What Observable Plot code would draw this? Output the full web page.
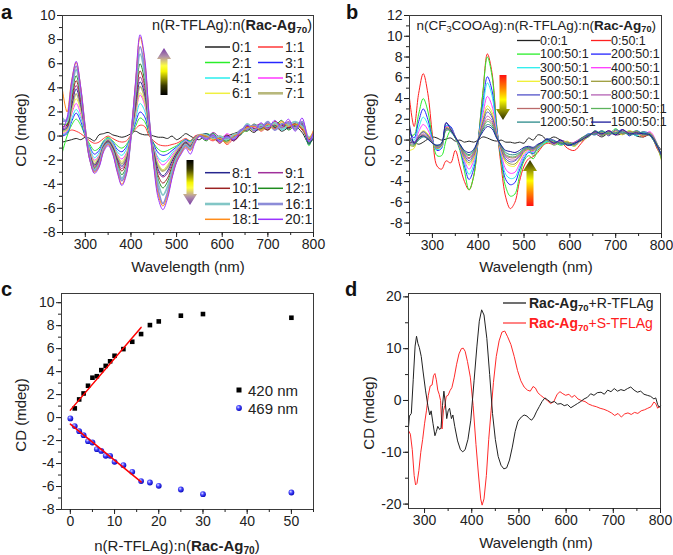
<!DOCTYPE html>
<html><head><meta charset="utf-8">
<script src="https://cdn.jsdelivr.net/npm/d3@7"></script>
<script src="https://cdn.jsdelivr.net/npm/@observablehq/plot@0.6"></script>
<style>
html,body{margin:0;padding:0;background:#fff;}
#fig{position:relative;width:673px;height:555px;overflow:hidden;font-family:"Liberation Sans",Arial,sans-serif;}
</style></head><body><div id="fig"></div>
<script>
// ---------------- DATA ----------------
// Panels a & b: wavelength grid (nm)
const wlAB = [250,260,270,280,290,300,310,320,330,340,350,360,370,380,390,400,410,420,430,440,450,460,470,480,490,500,510,520,530,540,550,565,580,595,610,625,640,655,670,685,700,715,730,745,760,775,790,800];

// Panel a: n(R-TFLAg):n(Rac-Ag70)
const aLabels = ["0:1","1:1","2:1","3:1","4:1","5:1","6:1","7:1","8:1","9:1","10:1","12:1","14:1","16:1","18:1","20:1"];
const a_0_1  = [-0.5,-0.4,-0.3,-0.2,-0.3,-0.1,-0.2,-0.4,0.1,0.2,0.3,0.1,0.0,-0.1,0.0,0.2,0.4,0.2,0.1,0.1,0.0,-0.1,-0.1,-0.2,0.0,-0.3,-0.1,0.2,0.0,-0.2,-0.3, 0.1,-0.2,-0.3,0.0,0.2,0.4,0.6,0.3,0.8,0.5,0.9,0.4,0.7,0.8,0.3,-0.6,-0.2];
const a_1_1  = [0.0,0.3,0.5,0.4,0.2,-0.1,-0.4,-0.6,-0.5,-0.2,0.0,-0.2,-0.4,-0.5,-0.4,0.1,0.6,0.9,0.8,0.0,-0.4,-0.7,-0.8,-0.8,-0.7,-0.6,-0.4,-0.2,-0.4,0.0,0.1, -0.1,-0.4,0.0,-0.7,-0.2,0.3,0.7,0.9,0.4,0.8,0.7,0.6,0.9,1.0,0.5,-0.3,0.0];
const a_2_1  = [-1.3,0.0,0.9,1.4,0.9,0.0,-0.7,-1.2,-1.0,-0.4,-0.1,-0.4,-0.8,-1.0,-0.7,0.0,0.8,1.5,1.2,0.2,-0.6,-1.1,-1.3,-1.2,-1.0,-0.8,-0.5,-0.3,-0.4,-0.1,0.0, 0.2,0.0,-0.4,-0.1,0.0,0.1,0.6,0.5,1.0,0.6,0.9,0.8,1.1,0.5,0.9,-0.8,0.3];
const a_3_1  = [0.0,0.2,1.2,1.9,1.2,0.0,-0.9,-1.5,-1.2,-0.5,-0.2,-0.5,-1.1,-1.3,-0.9,0.0,1.1,2.0,1.6,0.3,-0.7,-1.4,-1.6,-1.5,-1.2,-0.9,-0.6,-0.3,-0.5,-0.1,0.1, -0.2,-0.1,-0.1,0.0,-0.4,0.3,0.9,0.6,0.7,0.9,0.6,1.0,0.7,0.8,1.1,-0.4,0.1];
const a_4_1  = [0.1,0.3,1.4,2.2,1.5,0.1,-1.0,-1.8,-1.4,-0.6,-0.2,-0.6,-1.3,-1.6,-1.1,0.0,1.4,2.7,2.1,0.4,-0.9,-1.8,-2.1,-1.9,-1.4,-1.0,-0.6,-0.4,-0.5,-0.2,0.0, 0.0,0.2,-0.3,-0.3,0.0,0.4,0.5,0.8,0.8,0.7,1.1,0.5,0.8,1.0,0.6,-0.6,0.2];
const a_5_1  = [0.2,0.4,1.8,2.7,1.8,0.2,-1.2,-2.0,-1.6,-0.7,-0.3,-0.7,-1.5,-1.9,-1.4,0.0,1.8,3.4,2.6,0.5,-1.0,-2.0,-2.4,-2.1,-1.6,-1.1,-0.7,-0.4,-0.6,-0.2,0.1, -0.3,0.1,-0.5,0.2,-0.1,0.2,0.8,0.7,0.6,1.0,0.5,0.9,0.9,0.6,1.0,-0.3,0.0];
const a_6_1  = [0.3,0.5,2.0,3.1,2.1,0.2,-1.3,-2.1,-1.7,-0.7,-0.3,-0.8,-1.6,-2.1,-1.5,0.0,1.9,3.6,2.8,0.5,-1.1,-2.3,-2.8,-2.4,-1.8,-1.2,-0.8,-0.5,-0.7,-0.2,0.0, 0.1,-0.3,0.0,-0.2,-0.2,0.5,0.7,0.4,0.9,0.6,0.8,1.1,0.6,0.9,0.7,-0.5,0.3];
const a_7_1  = [0.4,0.6,2.3,3.5,2.4,0.3,-1.4,-2.3,-1.8,-0.8,-0.3,-0.8,-1.7,-2.3,-1.7,0.0,2.2,4.1,3.2,0.6,-1.2,-2.5,-2.9,-2.6,-1.9,-1.3,-0.8,-0.5,-0.7,-0.2,0.1, -0.1,0.0,-0.2,-0.5,0.1,0.3,0.6,0.9,0.5,0.8,1.0,0.7,1.0,0.7,1.2,-0.2,0.2];
const a_8_1  = [0.5,0.7,2.5,3.9,2.6,0.3,-1.5,-2.4,-1.9,-0.8,-0.4,-0.9,-1.9,-2.5,-1.9,0.0,2.4,4.5,3.5,0.7,-1.3,-2.8,-3.3,-2.9,-2.1,-1.4,-0.9,-0.5,-0.8,-0.3,0.0, 0.2,-0.2,-0.4,0.0,-0.3,0.1,0.9,0.5,0.6,1.1,0.7,1.0,0.6,1.1,0.9,-0.7,0.1];
const a_9_1  = [0.6,0.8,2.8,4.2,2.8,0.3,-1.6,-2.5,-2.0,-0.9,-0.4,-1.0,-2.0,-2.7,-2.0,0.0,2.6,4.9,3.8,0.8,-1.4,-3.0,-3.4,-3.1,-2.3,-1.5,-0.9,-0.6,-0.8,-0.3,0.1, -0.2,0.3,-0.1,-0.2,0.0,0.4,0.5,0.8,1.0,0.7,0.9,0.6,1.2,0.8,1.0,-0.4,0.4];
const a_10_1 = [0.8,0.9,3.0,4.6,3.0,0.4,-1.7,-2.6,-2.1,-0.9,-0.5,-1.0,-2.1,-2.9,-2.2,0.0,2.9,5.4,4.2,0.9,-1.5,-3.3,-3.9,-3.5,-2.5,-1.6,-1.0,-0.6,-0.9,-0.3,0.0, 0.0,-0.1,-0.6,0.1,-0.4,0.2,0.8,0.6,0.8,0.5,1.2,0.9,0.7,1.0,0.6,-0.3,0.0];
const a_12_1 = [1.0,1.0,3.4,5.0,3.3,0.4,-1.8,-2.7,-2.2,-1.0,-0.5,-1.1,-2.3,-3.2,-2.5,0.0,3.2,6.0,4.6,1.0,-1.7,-3.6,-4.3,-3.8,-2.7,-1.7,-1.1,-0.7,-0.9,-0.3,0.0, -0.4,0.2,-0.3,-0.4,-0.1,0.5,0.4,1.0,0.6,0.9,0.8,1.3,0.5,0.9,1.1,-0.6,0.3];
const a_14_1 = [1.5,1.2,3.8,5.5,3.6,0.5,-1.8,-2.8,-2.3,-1.0,-0.6,-1.2,-2.5,-3.5,-2.7,0.0,3.6,6.8,5.2,1.1,-1.9,-4.0,-4.9,-4.2,-2.9,-1.8,-1.2,-0.7,-1.0,-0.4,0.1, 0.1,-0.2,0.0,-0.3,0.1,0.3,1.0,0.5,0.9,0.8,1.1,0.6,0.9,1.2,0.8,-0.1,0.2];
const a_16_1 = [1.2,1.4,4.2,5.8,3.8,0.5,-1.9,-2.9,-2.4,-1.1,-0.6,-1.3,-2.7,-3.7,-2.9,0.0,3.9,7.4,5.7,1.3,-2.1,-4.5,-5.6,-4.7,-3.2,-2.0,-1.3,-0.8,-1.1,-0.4,0.0, -0.2,0.0,-0.4,-0.1,-0.2,0.5,0.6,0.9,0.7,1.2,0.5,1.0,1.1,0.6,1.2,-0.4,0.1];
const a_18_1 = [3.8,2.0,4.6,6.1,4.0,0.6,-2.0,-3.0,-2.5,-1.2,-0.7,-1.4,-2.9,-4.0,-3.1,0.0,4.4,8.2,6.3,1.4,-2.3,-4.9,-5.8,-5.0,-3.4,-2.1,-1.4,-0.9,-1.2,-0.5,0.1, 0.0,-0.3,-0.2,-0.6,0.0,0.2,0.7,0.8,0.5,1.0,0.6,1.2,0.8,1.0,0.7,-0.2,0.5];
const a_20_1 = [0.5,1.5,4.5,6.2,4.0,0.5,-2.0,-3.1,-2.6,-1.3,-0.8,-1.5,-3.0,-4.1,-3.2,0.0,4.5,8.4,6.5,1.5,-2.5,-5.2,-6.1,-5.2,-3.5,-2.2,-1.5,-1.0,-1.5,-0.6,0.0, -0.3,0.1,-0.5,0.0,-0.3,0.4,0.9,0.4,1.1,0.6,1.3,0.7,1.4,0.4,1.5,-0.5,0.3];

// Panel b: n(CF3COOAg):n(R-TFLAg):n(Rac-Ag70)
const bLabels = ["0:0:1","0:50:1","100:50:1","200:50:1","300:50:1","400:50:1","500:50:1","600:50:1","700:50:1","800:50:1","900:50:1","1000:50:1","1200:50:1","1500:50:1"];
const b_0_0    = [-0.3,-0.2,-0.4,-0.2,0.1,0.3,0.2,0.0,0.1,0.2,-0.1,0.0,-0.2,-0.1,-0.2,0.0,0.3,0.2,0.0,-0.1,0.0,-0.2,-0.2,-0.3,-0.2,-0.3,0.2,0.0,0.5,0.4,0.0, 0.3,0.0,-0.2,-0.3,0.1,0.4,0.6,0.3,0.7,0.5,0.6,0.8,0.4,0.3,0.5,-0.4,-1.0];
const b_0_50   = [4.0,1.3,4.5,6.4,4.5,0.5,-2.5,-2.8,-2.0,-2.2,-1.0,-2.5,-4.0,-4.8,-3.5,0.0,4.5,8.3,6.5,1.5,-2.5,-5.5,-6.6,-6.0,-4.0,-2.5,-1.8,-1.6,-1.2,-0.6,-0.3, -0.4,-0.2,-0.8,-1.0,-0.3,0.4,0.8,0.5,0.9,0.6,1.0,0.5,0.8,0.3,0.7,-0.8,-1.5];
const b_100_50 = [0.5,0.5,2.5,4.0,2.8,0.2,-1.5,-1.5,0.0,0.9,0.2,-1.0,-3.0,-4.8,-3.5,0.0,4.5,8.0,6.2,1.5,-2.0,-4.5,-5.4,-5.2,-3.5,-2.0,-1.5,-1.8,-1.0,-0.5,-0.2, -0.2,-0.5,-0.3,-0.6,0.1,0.5,0.6,0.9,0.6,1.1,0.6,0.9,0.5,0.8,0.4,-0.5,-1.8];
const b_200_50 = [0.8,0.2,1.8,3.0,2.0,0.1,-1.0,-0.8,1.4,1.3,0.3,-0.8,-2.5,-3.8,-2.8,0.0,3.5,6.1,4.8,1.2,-1.6,-3.8,-4.3,-4.1,-2.9,-1.8,-1.2,-1.3,-0.8,-0.4,-0.1, -0.3,-0.1,-0.5,-0.4,0.2,0.3,0.9,0.5,0.8,0.7,1.0,0.4,0.9,0.6,0.5,-0.4,-1.6];
const b_300_50 = [0.2,0.0,1.2,2.2,1.5,0.0,-0.9,-0.7,1.4,1.2,0.3,-0.7,-2.2,-3.3,-2.4,0.0,3.0,5.5,4.3,1.0,-1.4,-3.3,-3.7,-3.6,-2.6,-1.6,-1.1,-1.2,-0.7,-0.4,-0.1, -0.1,-0.4,-0.2,-0.5,0.0,0.6,0.5,0.8,0.5,0.9,0.7,0.8,0.4,0.7,0.6,-0.6,-1.4];
const b_400_50 = [0.0,-0.3,0.8,1.5,1.0,-0.1,-0.8,-0.6,1.3,1.1,0.3,-0.7,-2.0,-2.8,-2.0,0.0,2.4,4.2,3.3,0.8,-1.2,-2.8,-3.2,-3.1,-2.3,-1.4,-1.0,-1.1,-0.7,-0.3,0.0, -0.4,0.0,-0.4,-0.2,0.1,0.4,0.7,0.4,0.9,0.5,0.8,0.6,0.7,0.5,0.8,-0.3,-1.7];
const b_500_50 = [-1.0,-0.8,0.4,0.9,0.6,-0.2,-0.8,-0.6,1.2,1.1,0.3,-0.6,-1.8,-2.4,-1.8,0.0,2.0,3.3,2.7,0.6,-1.0,-2.2,-2.5,-2.5,-1.9,-1.2,-0.9,-1.0,-0.6,-0.3,0.0, -0.2,-0.3,-0.1,-0.6,0.2,0.5,0.6,0.7,0.6,0.8,0.5,0.9,0.6,0.4,0.7,-0.5,-2.0];
const b_600_50 = [-0.5,-0.6,0.3,0.8,0.5,-0.2,-0.8,-0.5,1.1,1.0,0.2,-0.6,-1.7,-2.2,-1.6,0.0,1.8,3.0,2.4,0.5,-0.9,-2.0,-2.3,-2.3,-1.8,-1.1,-0.9,-1.0,-0.6,-0.3,0.0, -0.3,-0.2,-0.5,-0.3,-0.1,0.3,0.8,0.5,0.7,0.6,0.9,0.5,0.8,0.6,0.4,-0.7,-1.8];
const b_700_50 = [0.3,-0.2,0.4,0.8,0.4,-0.2,-0.7,-0.5,1.6,1.2,0.3,-0.5,-1.5,-2.0,-1.4,0.0,1.6,2.7,2.2,0.5,-0.8,-1.8,-2.1,-2.0,-1.6,-1.0,-0.8,-0.9,-0.5,-0.2,0.1, 0.0,-0.4,-0.3,-0.4,0.1,0.6,0.5,0.9,0.4,1.0,0.6,0.7,0.5,0.8,0.6,-0.4,-1.5];
const b_800_50 = [-0.3,-0.4,0.2,0.6,0.3,-0.3,-0.7,-0.4,1.0,1.0,0.2,-0.5,-1.4,-1.8,-1.3,0.0,1.4,2.3,1.9,0.4,-0.7,-1.6,-1.9,-1.9,-1.5,-1.0,-0.8,-0.9,-0.5,-0.2,0.1, -0.3,-0.1,-0.4,-0.2,0.2,0.4,0.7,0.6,0.8,0.5,0.9,0.7,0.6,0.5,0.7,-0.6,-1.6];
const b_900_50 = [0.2,-0.3,0.2,0.5,0.2,-0.3,-0.6,-0.4,1.2,0.9,0.3,-0.5,-1.3,-1.7,-1.2,0.0,1.2,2.0,1.7,0.4,-0.6,-1.5,-1.7,-1.7,-1.4,-0.9,-0.7,-0.8,-0.5,-0.2,0.0, -0.2,-0.3,-0.2,-0.5,0.0,0.5,0.6,0.7,0.5,0.9,0.6,0.8,0.7,0.4,0.5,-0.5,-1.4];
const b_1000_50 = [-0.4,-0.5,0.1,0.4,0.2,-0.3,-0.6,-0.4,0.9,0.9,0.2,-0.5,-1.2,-1.5,-1.1,0.0,1.1,1.8,1.5,0.3,-0.6,-1.4,-1.6,-1.6,-1.3,-0.9,-0.8,-1.5,-0.6,-0.3,0.0, -0.5,-0.2,-0.3,-0.3,0.1,0.3,0.9,0.4,0.8,0.6,0.7,0.6,0.9,0.5,0.6,-0.3,-1.9];
const b_1200_50 = [0.1,-0.4,0.0,0.3,0.1,-0.3,-0.5,-0.3,1.1,0.8,0.2,-0.4,-1.1,-1.4,-1.0,0.0,1.0,1.5,1.3,0.3,-0.5,-1.2,-1.4,-1.4,-1.2,-0.8,-0.7,-0.8,-0.5,-0.2,0.1, -0.1,-0.3,-0.4,-0.4,0.2,0.5,0.6,0.8,0.6,0.7,0.8,0.5,0.6,0.7,0.4,-0.6,-1.3];
const b_1500_50 = [1.5,-0.3,0.2,0.4,0.1,-0.3,-0.5,-0.3,1.7,1.0,0.3,-0.4,-1.0,-1.2,-0.9,0.0,0.8,1.3,1.1,0.2,-0.5,-1.0,-1.1,-1.2,-1.0,-0.7,-0.6,-0.7,-0.4,-0.2,0.1, -0.3,0.0,-0.5,-0.3,0.0,0.4,0.8,0.6,0.9,0.5,1.0,0.6,0.7,0.6,0.5,-0.5,-1.5];

// Panel c: CD at 420 nm and 469 nm vs ratio
const c420Ratio = [1,2,3,4,5,6,7,8,9,10,12,14,16,18,20,25,30,50];
const c420CD    = [0.8,1.58,2.1,2.77,3.47,3.6,4.13,4.5,4.9,5.38,5.96,6.6,7.27,8.05,8.37,8.87,9.01,8.69];
const c469Ratio = [0,1,2,3,4,5,6,7,8,9,10,12,14,16,18,20,25,30,50];
const c469CD    = [-0.07,-0.74,-1.18,-1.53,-2.05,-2.17,-2.75,-2.9,-3.33,-3.33,-3.85,-4.14,-4.72,-5.53,-5.65,-5.94,-6.26,-6.67,-6.52];
const fitRatio  = [0,16];
const fit420CD  = [0.65,7.85];
const fit469CD  = [-0.57,-5.6];

// Panel d: Rac-Ag70 + R-TFLAg / + S-TFLAg
const dWlR = [266,268,272,276,280,283,286,289,293,297,302,307,311,314,318,322,325,328,332,335,338,341,344,347,350,353,357,360,364,370,376,381,386,392,398,405,411,416,421,426,432,438,444,450,456,462,468,474,480,486,492,498,505,511,517,522,527,532,537,543,549,555,561,568,575,582,589,596,603,610,617,624,631,638,645,652,659,666,674,681,688,695,702,709,716,723,730,737,744,751,758,765,772,779,786,790,794,797,800];
const dCdR = [-5.2,-3.0,-2.5,4.0,10.5,12.4,11.0,10.2,8.5,5.5,2.0,-1.0,-2.8,-2.0,-4.5,-6.8,-6.0,-5.0,-5.6,-5.2,-1.0,1.8,-0.5,-3.5,-2.0,-1.5,-3.5,-2.8,-5.0,-7.8,-9.5,-9.9,-9.5,-7.5,-3.8,3.9,10.5,15.3,17.5,16.5,12.0,5.0,-2.5,-7.5,-10.8,-12.5,-13.2,-13.0,-11.5,-9.0,-6.0,-4.0,-3.2,-2.8,-3.0,-3.5,-3.8,-3.2,-2.2,-1.2,-0.2,0.5,0.1,-0.4,-0.2,-0.7,-0.6,-1.0,-0.8,-1.4,-1.0,-0.6,-0.2,0.3,0.6,1.3,1.0,1.5,1.6,1.2,2.0,1.7,2.3,1.8,2.1,1.9,2.3,2.6,2.0,1.6,1.8,1.2,1.0,0.8,0.3,0.5,-0.8,-1.3,-1.0];
const dWlS = [266,270,274,278,281,284,288,292,296,300,304,308,312,316,319,322,325,328,331,334,337,340,343,346,350,354,358,363,368,373,378,382,386,391,397,403,409,414,419,422,426,431,436,441,446,452,458,464,470,476,483,490,497,504,511,518,524,530,535,540,546,553,560,567,574,581,587,593,599,606,612,618,625,632,640,648,656,664,672,680,688,696,703,710,717,724,731,738,745,752,759,766,773,780,786,790,794,797,800];
const dCdS = [-5.8,-6.5,-9.5,-14.5,-16.3,-16.0,-13.5,-10.0,-7.5,-4.5,-2.0,1.0,2.8,3.0,4.8,5.2,4.0,2.0,1.2,0.0,-5.5,-2.0,-1.0,0.8,1.0,1.9,2.5,4.5,7.0,9.0,10.0,10.1,9.5,7.5,4.5,-1.0,-8.5,-14.0,-19.0,-20.2,-19.0,-14.5,-7.5,-2.0,3.5,8.5,11.5,13.2,13.4,12.3,10.8,8.5,5.8,3.8,2.6,2.0,1.8,2.7,2.4,1.5,1.0,0.5,0.0,-0.6,-0.2,1.2,1.7,1.3,1.0,1.2,0.6,1.0,0.3,0.0,-0.2,-0.7,-1.0,-1.2,-1.5,-1.7,-2.0,-2.4,-2.9,-2.5,-3.2,-2.6,-2.4,-2.7,-2.3,-2.5,-2.0,-1.8,-1.5,-1.2,-0.3,-0.6,-1.5,-1.2,-1.4];
const dLabels = ["R-TFLAg","S-TFLAg"];

// Tick values
const tickWlMajor = [300,400,500,600,700,800];
const tickWlMinor = [250,300,350,400,450,500,550,600,650,700,750,800];
const tickAMajor = [-8,-6,-4,-2,0,2,4,6,8,10];
const tickAMinor = [-8,-7,-6,-5,-4,-3,-2,-1,0,1,2,3,4,5,6,7,8,9,10];
const tickBMajor = [-8,-6,-4,-2,0,2,4,6,8,10,12];
const tickBMinor = [-9,-8,-7,-6,-5,-4,-3,-2,-1,0,1,2,3,4,5,6,7,8,9,10,11,12];
const tickCxMajor = [0,10,20,30,40,50];
const tickCxMinor = [0,5,10,15,20,25,30,35,40,45,50,55];
const tickDyMajor = [-20,-10,0,10,20];
const tickDyMinor = [-20,-15,-10,-5,0,5,10,15,20];

// ---------------- STYLES ----------------
const aColors = ["#222222","#ff3838","#2aee2a","#2626ff","#2aeeee","#ff38ff","#f0f040","#b8b87c","#26268e","#a0309b","#9b2222","#1e8c1e","#82c6c6","#8c8cd8","#ff8c1a","#9933ff"];
const aWidths = [1,1,1,1,1,1,1,1.8,1,1,1,1,1.8,1.8,1,1];
const bColors = ["#222222","#ff2020","#2aee2a","#2424ff","#2aeeee","#ff38ff","#f0f030","#9c9c3a","#5252c8","#b462b4","#ba6a6a","#5cb35c","#2a8a8a","#1c1c9c"];
const FONT = '"Liberation Sans", Arial, Helvetica, sans-serif';

// ---------------- BUILD ----------------
const fig = document.getElementById("fig");
const rowsOf = (xs, ys) => xs.map((x, i) => ({x, y: ys[i]}));

function panel({left, top, width, height, mt, mr, mb, ml, xDomain, yDomain, xMajor, xMinor, yMajor, yMinor, marks}) {
  const svg = Plot.plot({
    width, height, marginTop: mt, marginRight: mr, marginBottom: mb, marginLeft: ml,
    x: {domain: xDomain}, y: {domain: yDomain},
    style: {fontFamily: FONT, fontSize: "14px", color: "#222", background: "transparent", overflow: "visible"},
    marks: [
      ...marks,
      Plot.frame({stroke: "#3a3a3a"}),
      Plot.axisX(xMinor, {tickSize: 3, tickFormat: () => "", label: null}),
      Plot.axisX(xMajor, {tickSize: 5, tickPadding: 2, tickFormat: d => String(d), label: null, fontSize: 14}),
      Plot.axisY(yMinor, {tickSize: 3, tickFormat: () => "", label: null}),
      Plot.axisY(yMajor, {tickSize: 5, tickPadding: 2, tickFormat: d => String(d), label: null, fontSize: 14})
    ]
  });
  svg.style.position = "absolute";
  svg.style.left = left + "px";
  svg.style.top = top + "px";
  fig.appendChild(svg);
  return svg;
}

const aSeries = [a_0_1,a_1_1,a_2_1,a_3_1,a_4_1,a_5_1,a_6_1,a_7_1,a_8_1,a_9_1,a_10_1,a_12_1,a_14_1,a_16_1,a_18_1,a_20_1];
const bSeries = [b_0_0,b_0_50,b_100_50,b_200_50,b_300_50,b_400_50,b_500_50,b_600_50,b_700_50,b_800_50,b_900_50,b_1000_50,b_1200_50,b_1500_50];

// Panel a
panel({left: 0, top: 0, width: 336, height: 280, mt: 15, mr: 23, mb: 48, ml: 62,
  xDomain: [250, 800], yDomain: [-8, 10],
  xMajor: tickWlMajor, xMinor: tickWlMinor, yMajor: tickAMajor, yMinor: tickAMinor,
  marks: aSeries.map((s, i) => Plot.line(rowsOf(wlAB, s), {x: "x", y: "y", stroke: aColors[i], strokeWidth: aWidths[i], curve: "catmull-rom", clip: true}))
});

// Panel b
panel({left: 336, top: 0, width: 337, height: 280, mt: 15, mr: 12, mb: 47, ml: 73,
  xDomain: [250, 800], yDomain: [-9, 12],
  xMajor: tickWlMajor, xMinor: tickWlMinor, yMajor: tickBMajor, yMinor: tickBMinor,
  marks: bSeries.map((s, i) => Plot.line(rowsOf(wlAB, s), {x: "x", y: "y", stroke: bColors[i], strokeWidth: 1, curve: "catmull-rom", clip: true}))
});

// Panel c
panel({left: 0, top: 280, width: 336, height: 275, mt: 13, mr: 23, mb: 46, ml: 61,
  xDomain: [-2, 55], yDomain: [-8, 10.8],
  xMajor: tickCxMajor, xMinor: tickCxMinor, yMajor: tickAMajor, yMinor: tickAMinor,
  marks: [
    Plot.dot(rowsOf(c420Ratio, c420CD), {x: "x", y: "y", symbol: "square", r: 2.6, fill: "#000"}),
    Plot.dot(rowsOf(c469Ratio, c469CD), {x: "x", y: "y", r: 2.9, fill: "url(#ball)"}),
    Plot.line(rowsOf(fitRatio, fit420CD), {x: "x", y: "y", stroke: "#ff0000", strokeWidth: 1.5}),
    Plot.line(rowsOf(fitRatio, fit469CD), {x: "x", y: "y", stroke: "#ff0000", strokeWidth: 1.5})
  ]
});

// Panel d
panel({left: 336, top: 280, width: 337, height: 275, mt: 13, mr: 13, mb: 47, ml: 72,
  xDomain: [266, 800], yDomain: [-20.85, 20.65],
  xMajor: tickWlMajor, xMinor: tickWlMinor.filter(v => v >= 300), yMajor: tickDyMajor, yMinor: tickDyMinor,
  marks: [
    Plot.line(rowsOf(dWlS, dCdS), {x: "x", y: "y", stroke: "#ff2a2a", strokeWidth: 1}),
    Plot.line(rowsOf(dWlR, dCdR), {x: "x", y: "y", stroke: "#222", strokeWidth: 1})
  ]
});

// ---------------- OVERLAY (labels, legends, arrows) ----------------
const ov = d3.select(fig).append("svg").attr("width", 673).attr("height", 555)
  .style("position", "absolute").style("left", "0px").style("top", "0px")
  .attr("font-family", FONT);
const defs = ov.append("defs");
const ball = defs.append("radialGradient").attr("id", "ball").attr("cx", "0.38").attr("cy", "0.35").attr("r", "0.7");
ball.append("stop").attr("offset", "0").attr("stop-color", "#dcdcff");
ball.append("stop").attr("offset", "0.4").attr("stop-color", "#4848ff");
ball.append("stop").attr("offset", "1").attr("stop-color", "#0000b4");

function rich(x, y, parts, {size = 15, anchor = "start", fill = "#222", rotate = 0} = {}) {
  const t = ov.append("text").attr("x", x).attr("y", y).attr("font-size", size).attr("fill", fill)
    .attr("text-anchor", anchor).attr("dominant-baseline", "central");
  if (rotate) t.attr("transform", `rotate(${rotate},${x},${y})`);
  let shifted = false;
  for (const p of parts) {
    const s = t.append("tspan").text(p.t);
    if (p.b) s.attr("font-weight", "bold");
    if (p.sub) { s.attr("font-size", size * 0.68).attr("dy", size * 0.3); shifted = true; }
    else if (shifted) { s.attr("dy", -size * 0.3); shifted = false; }
  }
  return t;
}
function swatch(x1, x2, y, color, w = 1.5) {
  ov.append("line").attr("x1", x1).attr("x2", x2).attr("y1", y).attr("y2", y).attr("stroke", color).attr("stroke-width", w);
}
function arrow(id, cx, yBase, yTip, stops) {
  const g = defs.append("linearGradient").attr("id", id).attr("gradientUnits", "userSpaceOnUse")
    .attr("x1", cx).attr("x2", cx).attr("y1", yBase).attr("y2", yTip);
  stops.forEach(([o, c]) => g.append("stop").attr("offset", o).attr("stop-color", c));
  const sgn = yBase > yTip ? 1 : -1, bw = 7, hw = 14, hl = 11, yH = yTip + sgn * hl;
  const pts = [[cx - bw/2, yBase], [cx + bw/2, yBase], [cx + bw/2, yH], [cx + hw/2, yH], [cx, yTip], [cx - hw/2, yH], [cx - bw/2, yH]];
  ov.append("polygon").attr("points", pts.map(p => p.join(",")).join(" ")).attr("fill", `url(#${id})`);
}

// panel letters
[["a", 1, 19], ["b", 346, 19], ["c", 1, 296], ["d", 345, 296]].forEach(([t, x, y]) =>
  ov.append("text").attr("x", x).attr("y", y).attr("font-size", 20).attr("font-weight", "bold").attr("fill", "#111").text(t));

// axis titles
rich(20, 130, [{t: "CD (mdeg)"}], {anchor: "middle", rotate: -90});
rich(369, 130, [{t: "CD (mdeg)"}], {anchor: "middle", rotate: -90});
rich(20, 415, [{t: "CD (mdeg)"}], {anchor: "middle", rotate: -90});
rich(368, 413, [{t: "CD (mdeg)"}], {anchor: "middle", rotate: -90});
rich(188, 266, [{t: "Wavelength (nm)"}], {anchor: "middle"});
rich(536, 266, [{t: "Wavelength (nm)"}], {anchor: "middle"});
rich(536, 542, [{t: "Wavelength (nm)"}], {anchor: "middle"});
rich(177, 545, [{t: "n(R-TFLAg):n("}, {t: "Rac-Ag", b: 1}, {t: "70", b: 1, sub: 1}, {t: ")"}], {anchor: "middle"});

// panel a legend
rich(312, 25, [{t: "n(R-TFLAg):n("}, {t: "Rac-Ag", b: 1}, {t: "70", b: 1, sub: 1}, {t: ")"}], {anchor: "end", size: 14.5});
const aRowsY = [47, 62.5, 78, 93.3, 172.7, 188.3, 204, 219.3];
aLabels.forEach((lab, i) => {
  const r = Math.floor(i / 2), c = i % 2, y = aRowsY[r];
  const x1 = c ? 258 : 205;
  swatch(x1, x1 + 25, y, aColors[i], aWidths[i] > 1 ? 2.6 : 1.5);
  rich(x1 + 27, y, [{t: lab}], {size: 14});
});
const gradA = [[0, "#000000"], [0.2, "#3a3a00"], [0.5, "#f4f400"], [0.62, "#ffff40"], [0.82, "#b090a8"], [1, "#7a3aa8"]];
arrow("arA1", 164, 95, 48, gradA);
arrow("arA2", 190, 160, 205, gradA);

// panel b legend
rich(656, 25, [{t: "n(CF"}, {t: "3", sub: 1}, {t: "COOAg):n(R-TFLAg):n("}, {t: "Rac-Ag", b: 1}, {t: "70", b: 1, sub: 1}, {t: ")"}], {anchor: "end", size: 13.5});
bLabels.forEach((lab, i) => {
  const r = Math.floor(i / 2), c = i % 2, y = 40.5 + r * 13.6;
  const x1 = c ? 591 : 517, x2 = c ? 611 : 540;
  swatch(x1, x2, y, bColors[i], 1.3);
  rich(x2, y, [{t: lab}], {size: 12.5});
});
const gradB = [[0, "#ff1010"], [0.3, "#ff8a00"], [0.55, "#ffff00"], [0.8, "#8a8a00"], [1, "#2a2a00"]];
arrow("arB1", 503, 75, 120, gradB);
arrow("arB2", 530, 206, 160, gradB);

// panel c legend
ov.append("rect").attr("x", 236.5).attr("y", 387.5).attr("width", 5).attr("height", 5).attr("fill", "#000");
rich(248, 390, [{t: "420 nm"}], {size: 15});
ov.append("circle").attr("cx", 239).attr("cy", 408).attr("r", 2.9).attr("fill", "url(#ball)");
rich(248, 408, [{t: "469 nm"}], {size: 15});

// panel d legend
swatch(503, 526, 303, "#222", 1.3);
rich(529, 303, [{t: "Rac-Ag", b: 1}, {t: "70", b: 1, sub: 1}, {t: "+" + dLabels[0]}], {size: 14});
swatch(503, 526, 323, "#ff4040", 1.3);
rich(529, 323, [{t: "Rac-Ag", b: 1}, {t: "70", b: 1, sub: 1}, {t: "+" + dLabels[1]}], {size: 14, fill: "#ff2020"});
</script></body></html>
